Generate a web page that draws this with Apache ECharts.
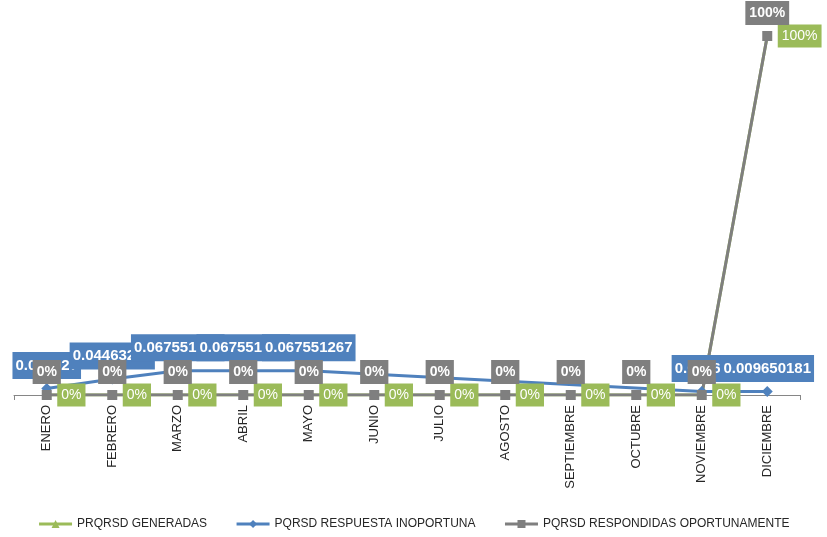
<!DOCTYPE html>
<html>
<head>
<meta charset="utf-8">
<script src="https://cdn.jsdelivr.net/npm/echarts@6/dist/echarts.min.js"></script>
<style>
html, body { margin: 0; padding: 0; background: #fff; }
#main { width: 827px; height: 537px; }
</style>
</head>
<body>
<div id="main"></div>
<script>
const months = ['ENERO', 'FEBRERO', 'MARZO', 'ABRIL', 'MAYO', 'JUNIO', 'JULIO',
    'AGOSTO', 'SEPTIEMBRE', 'OCTUBRE', 'NOVIEMBRE', 'DICIEMBRE'];
const generadas = [0, 0, 0, 0, 0, 0, 0, 0, 0, 0, 0, 1];
// months without a value are left empty and joined by the line
const inoportuna = [0.017927, 0.04463216, 0.067551267, 0.067551267, 0.067551267,
    null, null, null, null, null, 0.00965, 0.009650181];
const oportunas = [0, 0, 0, 0, 0, 0, 0, 0, 0, 0, 0, 1];

const GREEN = '#9BBB59';
const BLUE = '#4F81BD';
const GRAY = '#7F7F7F';
const FONT = 'Liberation Sans';

const pct = p => Math.round(p.value * 100) + '%';

const chart = echarts.init(document.getElementById('main'));

const option = {
    animation: false,
    textStyle: { fontFamily: FONT },
    grid: { left: 14, right: 27, top: 36, bottom: 142 },
    xAxis: {
        type: 'category',
        data: months,
        boundaryGap: true,
        axisLine: { lineStyle: { color: '#868686', width: 1 } },
        axisTick: { show: true, length: 5, lineStyle: { color: '#868686' } },
        axisLabel: {
            rotate: 90,
            margin: 10,
            fontSize: 13,
            color: '#262626',
            fontFamily: FONT,
            interval: 0
        }
    },
    yAxis: { type: 'value', min: 0, max: 1, show: false },
    legend: {
        bottom: 2,
        left: 'center',
        itemGap: 28,
        itemWidth: 33,
        itemHeight: 10,
        lineStyle: { width: 3 },
        textStyle: { fontSize: 12, color: '#262626', fontFamily: FONT },
        data: ['PRQRSD GENERADAS', 'PQRSD RESPUESTA INOPORTUNA', 'PQRSD RESPONDIDAS OPORTUNAMENTE']
    },
    series: [
        {
            name: 'PRQRSD GENERADAS',
            type: 'line',
            data: generadas,
            color: GREEN,
            symbol: 'triangle',
            symbolSize: 9,
            lineStyle: { width: 3 },
            label: {
                show: true,
                position: 'right',
                distance: 6,
                formatter: pct,
                color: '#fff',
                backgroundColor: GREEN,
                padding: [5, 4, 4, 4],
                fontSize: 14,
                fontFamily: FONT
            }
        },
        {
            name: 'PQRSD RESPUESTA INOPORTUNA',
            type: 'line',
            data: inoportuna,
            connectNulls: true,
            color: BLUE,
            symbol: 'diamond',
            symbolSize: 11,
            lineStyle: { width: 3 },
            label: {
                show: true,
                position: 'top',
                distance: 4,
                formatter: p => String(p.value),
                color: '#fff',
                fontWeight: 'bold',
                backgroundColor: BLUE,
                padding: [6, 3, 6, 3],
                fontSize: 15,
                fontFamily: FONT
            }
        },
        {
            name: 'PQRSD RESPONDIDAS OPORTUNAMENTE',
            type: 'line',
            data: oportunas,
            color: GRAY,
            symbol: 'rect',
            symbolSize: 10,
            lineStyle: { width: 3 },
            label: {
                show: true,
                position: 'top',
                distance: 6,
                formatter: pct,
                color: '#fff',
                fontWeight: 'bold',
                backgroundColor: GRAY,
                padding: [5, 4, 5, 4],
                fontSize: 14,
                fontFamily: FONT
            }
        }
    ]
};

chart.setOption(option);
</script>
</body>
</html>
